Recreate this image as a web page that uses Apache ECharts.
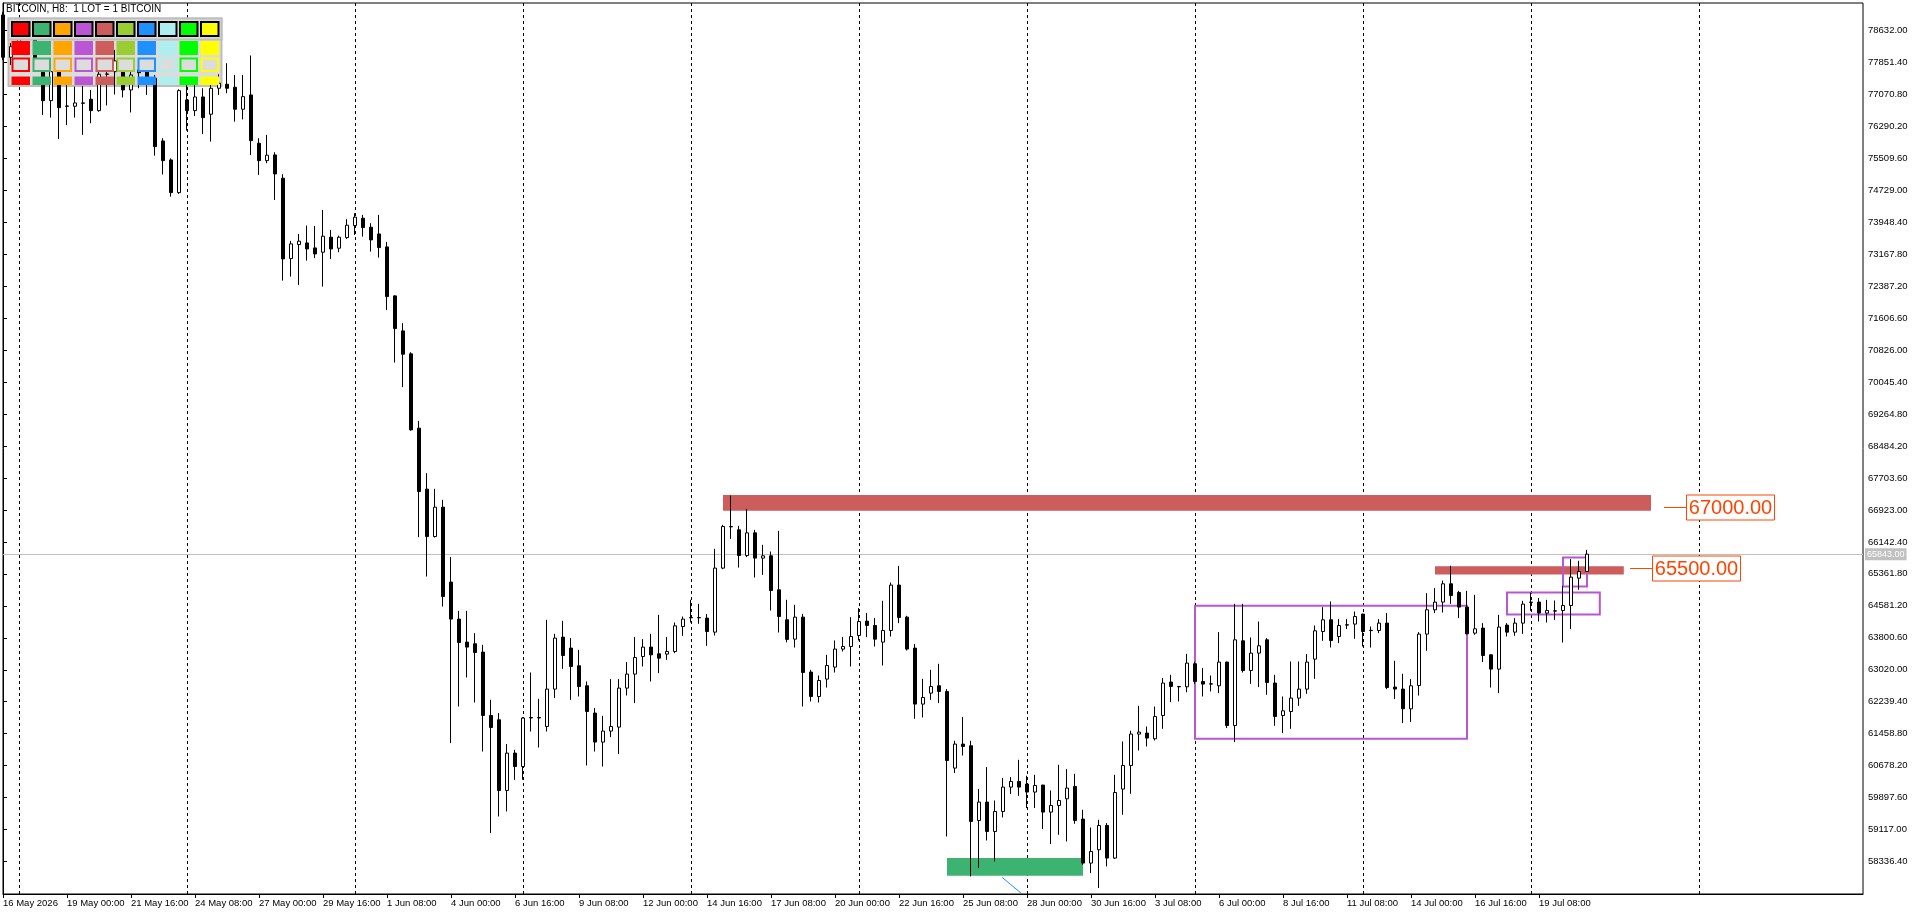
<!DOCTYPE html>
<html>
<head>
<meta charset="utf-8">
<script src="https://cdn.jsdelivr.net/npm/echarts@6/dist/echarts.min.js"></script>
<style>html,body{margin:0;padding:0;background:#fff;overflow:hidden}#c{width:1920px;height:915px}</style>
</head>
<body>
<div id="c"></div>
<script>
// ---- data (BITCOIN, H8) ----
const opens = [
79008,77975,78276,78642,78495,77763,76916,77624,76786,76779,
76860,76950,76672,77560,77624,77624,77177,77665,77624,77463,
75932,75468,74670,76933,76672,77006,76584,77218,77316,77243,
76706,77055,75876,75451,75590,75022,73059,73401,73442,73320,
73215,73581,73313,73572,73865,74045,73826,73662,73345,72149,
71294,70733,68919,67430,66273,66990,65160,64257,63695,63654,
63451,61904,61799,60073,60985,60658,61855,61855,61635,62548,
63817,63549,63117,62629,61962,61254,61523,61620,62572,62914,
63344,63573,63410,63402,63466,64076,64296,64296,64281,63939,
65502,66517,66436,65809,66363,65746,65802,64972,64240,63768,
64305,62963,62367,62792,63085,63525,63588,63856,64208,64101,
63695,63979,65087,64305,63549,62182,62450,62629,62490,60619,
61205,61164,59340,59789,59072,59560,60155,60293,60229,60034,
60204,59545,59707,59870,60171,59374,58300,58625,59218,58422,
60107,60683,61450,61474,61335,61904,62719,62612,62604,63166,
62734,62677,62629,63207,61659,63727,63002,63426,63751,62695,
61904,62001,62328,62548,63280,63954,64240,63832,64118,64135,
64379,63983,63979,64159,62597,62548,62067,62636,63891,64484,
64672,65119,64906,64550,63915,64037,63385,63036,64110,63939,
64159,64672,64672,64403,64459,64467,64589,65257,65419];
const highs = [
79081,78324,78837,78886,78764,77909,77836,77836,77299,77258,
77275,77177,77624,77746,78154,77829,77829,77787,77868,77543,
75998,75505,77194,77299,77341,77218,77355,77560,77829,77543,
77543,78019,75998,76079,75656,75119,73491,73662,73865,73857,
74248,73760,73621,74021,74167,74126,73923,74126,73467,72166,
71482,70774,69097,67821,67437,67169,65770,64459,64459,63915,
63629,62287,61962,61205,61066,61860,62953,62311,64240,63898,
64215,63793,63507,62734,62084,61896,62792,62792,63207,63817,
63768,63898,64362,63817,64174,64320,64728,64630,64379,65973,
66558,67274,66534,66949,66436,66070,65907,66412,64728,64606,
64386,63019,62880,63385,63735,63817,64305,64525,64403,64281,
64703,65150,65558,64337,63646,62799,63019,63166,62548,61286,
61864,61286,60107,60644,59829,60375,60399,60822,60432,60456,
60212,60073,60700,60595,60480,59602,59169,59357,59277,60456,
61269,61530,62140,61635,62123,62817,62897,62625,63410,63215,
63060,62880,63939,63220,64630,64630,63808,64198,63793,62897,
62367,63222,63222,63402,64101,64549,64687,64256,64256,64442,
64390,64076,64256,64403,63239,62922,62792,63939,64891,65013,
65199,65558,64948,64948,64850,64159,63395,64362,64159,64281,
64703,64906,64769,64728,64711,65069,65722,65680,65948];
const lows = [
77909,77787,78154,78398,77763,76567,76501,75981,76323,76501,
76079,76364,76647,76799,77067,76994,76628,77219,77055,75573,
75114,74572,74638,76184,76542,76103,75915,77055,77097,76403,
76457,75590,75102,75388,74492,72522,72620,72417,73010,73069,
72376,73052,73215,73540,73638,73596,73230,73083,71807,70521,
69920,68860,66258,65297,66250,64564,61230,62123,62831,62221,
61025,59033,59438,59560,60334,60334,61513,61122,61513,62328,
63043,62287,62368,60683,61025,60658,61376,60961,62392,62206,
63100,62734,62938,63263,63426,63849,64174,64142,63605,63856,
65477,66217,65516,65770,65272,65338,64466,63930,63690,63564,
62123,62245,62221,62587,62953,63466,63100,63735,63817,63588,
63124,63832,64159,63490,61823,61855,62287,62206,58950,60498,
60927,57974,58178,58852,58340,59414,59985,59943,59643,59643,
59130,58764,58991,58828,59260,58259,58056,57690,58218,58400,
59480,59992,61049,61147,61294,61579,62230,62245,62470,62677,
62368,62490,62450,61596,61254,62953,62677,62597,62409,61652,
61474,61579,62140,62433,62799,63727,63564,63671,64013,63776,
63588,63564,63915,62548,62304,61718,61743,62392,63483,64403,
64418,64630,64281,63880,63873,63207,62587,62450,63832,63849,
63898,64459,64198,64174,64240,63685,64013,64972,65410];
const closes = [
77975,78234,78642,78520,77909,76916,77624,76745,76779,76860,
76852,76672,77560,77568,77885,77177,77543,77599,77421,75793,
75451,74670,77160,76672,77006,76501,77218,77341,77218,76706,
77014,75940,75451,75583,75127,73052,73418,73484,73296,73174,
73606,73296,73581,73874,74070,73816,73516,73328,72131,71350,
70725,68877,67371,66273,66990,64808,64257,63685,63573,63441,
61904,61611,60073,60985,60658,61840,61843,61843,62548,63793,
63368,63100,62612,62001,61254,61523,61635,62572,62914,63319,
63573,63385,63304,63466,64093,64257,64288,64288,63954,65502,
66517,66510,65809,66363,65746,65802,64955,64320,63761,64305,
62953,62367,62758,63124,63525,63588,63832,64198,64101,63768,
63979,65087,64296,63525,62182,62343,62612,62490,60805,61205,
61147,59316,59789,59072,59560,60155,60293,60155,60034,60195,
59545,59707,59829,60131,59340,58300,58584,59218,58422,60024,
60683,61450,61498,61352,61880,62695,62612,62604,63183,62734,
62670,62670,63207,61659,63751,63002,63426,63605,62709,61880,
62018,62328,62548,63207,63971,64240,63734,64101,64110,64320,
63954,63976,64159,62587,62548,62067,62629,63891,64484,64672,
65119,64833,64550,63898,64020,63368,63036,64062,63939,64159,
64623,64664,64403,64467,64452,64589,65282,65419,65843];

// x-axis tick labels (one every 8 bars) and their bar indices
const xLabels = ["16 May 2026","19 May 00:00","21 May 16:00","24 May 08:00","27 May 00:00","29 May 16:00",
"1 Jun 08:00","4 Jun 00:00","6 Jun 16:00","9 Jun 08:00","12 Jun 00:00","14 Jun 16:00","17 Jun 08:00",
"20 Jun 00:00","22 Jun 16:00","25 Jun 08:00","28 Jun 00:00","30 Jun 16:00","3 Jul 08:00","6 Jul 00:00",
"8 Jul 16:00","11 Jul 08:00","14 Jul 00:00","16 Jul 16:00","19 Jul 08:00"];
const xLabelIdx = [0,8,16,24,32,40,48,56,64,72,80,88,96,104,112,120,128,136,144,152,160,168,176,184,192];
// weekly separators (bar indices)
const weekIdx = [2,23,44,65,86,107,128,149,170,191,212];
// price axis labels
const yTicks = [78632.00,77851.40,77070.80,76290.20,75509.60,74729.00,73948.40,73167.80,72387.20,71606.60,
70826.00,70045.40,69264.80,68484.20,67703.60,66923.00,66142.40,65361.80,64581.20,63800.60,63020.00,
62239.40,61458.80,60678.20,59897.60,59117.00,58336.40];
const bidPrice = 65843;
// zones: [fromBar, toBar, topPrice, bottomPrice]
const redZones = [[90,206,67290,66905],[179,202.6,65550,65345]];
const greenZones = [[118,135,58424,57991]];
const purpleBoxes = [[149,183,64582,61335],[188,199.6,64906,64369],[195,198,65760,65052]];
// level labels: [anchorBar, price]
const levelLabels = [[207.6,67000],[203.4,65500]];
// trend line segment: [bar, price]
const trendLine = [[124.9,57949],[127.3,57560]];
// colour palette panel
const palette = ['#FF0000','#3CB371','#FFA500','#BA55D3','#CD5C5C','#9ACD32','#1E90FF','#AFEEEE','#00FF00','#FFFF00'];

// ---- build ----
const FONT = 'Arial, "Liberation Sans", sans-serif';
const candleData = opens.map((o, i) => [i, o, closes[i], lows[i], highs[i]]);

const areaData = [];
redZones.forEach(z => areaData.push([{coord:[z[0], z[2]], itemStyle:{color:'#CD5C5C', opacity:1, borderWidth:0}}, {coord:[z[1], z[3]]}]));
greenZones.forEach(z => areaData.push([{coord:[z[0], z[2]], itemStyle:{color:'#3CB371', opacity:1, borderWidth:0}}, {coord:[z[1], z[3]]}]));
purpleBoxes.forEach(z => areaData.push([{coord:[z[0], z[2]], itemStyle:{color:'rgba(0,0,0,0)', opacity:1, borderColor:'#BA55D3', borderWidth:2}}, {coord:[z[1], z[3]]}]));

const graphics = [];
// panel background (below candles)
graphics.push({type:'rect', z:1, silent:true, shape:{x:8.5, y:18.5, width:213, height:67.5}, style:{fill:'#DCDCDC', stroke:'#BEBEBE', lineWidth:2}});
// top strip (above candles)
graphics.push({type:'rect', z:10, silent:true, shape:{x:8.5, y:18.5, width:213, height:21}, style:{fill:'#DCDCDC', stroke:'#BEBEBE', lineWidth:2}});
palette.forEach((c, k) => {
  const x = 11.5 + 21 * k;
  graphics.push({type:'rect', z:11, silent:true, shape:{x:x+0.5, y:22, width:17.5, height:14}, style:{fill:c, stroke:'#000', lineWidth:2}});
  graphics.push({type:'rect', z:11, silent:true, shape:{x:x, y:41, width:18.5, height:14}, style:{fill:c}});
  graphics.push({type:'rect', z:11, silent:true, shape:{x:x+1, y:58.5, width:16.5, height:12.5}, style:{fill:'#DCDCDC', stroke:c, lineWidth:2}});
  graphics.push({type:'rect', z:11, silent:true, shape:{x:x, y:76.5, width:18.5, height:8.5}, style:{fill:c}});
});
graphics.push({type:'text', z:20, silent:true, x:6, y:4, style:{text:'BITCOIN, H8:  1 LOT = 1 BITCOIN', font:'10px ' + FONT, fill:'#000'}});

const option = {
  animation: false,
  backgroundColor: '#ffffff',
  grid: {left:3, right:57, top:3, bottom:21, show:true, borderColor:'#000', borderWidth:1, backgroundColor:'#fff', containLabel:false, outerBoundsMode:'none'},
  xAxis: [
    {type:'value', min:0, max:232.5, position:'bottom',
     axisLine:{show:true, onZero:false, lineStyle:{color:'#000', width:1}},
     axisTick:{show:true, length:4, customValues:xLabelIdx, lineStyle:{color:'#000'}},
     axisLabel:{show:true, customValues:xLabelIdx, formatter:v => xLabels[Math.round(v/8)] || '', align:'left', margin:4, fontSize:9.5, fontFamily:FONT, color:'#000'},
     splitLine:{show:false}},
    {type:'value', min:0, max:232.5, position:'bottom', gridIndex:0,
     axisLine:{show:false}, axisTick:{show:false, customValues:weekIdx}, axisLabel:{show:false},
     splitLine:{show:true, lineStyle:{color:'#000', width:1, type:[3,3]}}}
  ],
  yAxis: {type:'value', position:'right', min:57545, max:79300, scale:true,
     axisLine:{show:true, lineStyle:{color:'#000', width:1}},
     axisTick:{show:true, length:4, customValues:yTicks, lineStyle:{color:'#000'}},
     axisLabel:{show:true, customValues:yTicks, formatter:v => Number(v).toFixed(2), margin:5, fontSize:9.5, fontFamily:FONT, color:'#000'},
     splitLine:{show:false}},
  graphic: {elements: graphics},
  series: [
    {type:'candlestick', name:'BITCOIN', data:candleData, encode:{x:0, y:[1,2,3,4]},
     barWidth:4, z:2, silent:true,
     itemStyle:{color:'#FFFFFF', color0:'#000000', borderColor:'#000000', borderColor0:'#000000', borderWidth:1},
     markArea:{silent:true, z:1, label:{show:false}, data:areaData},
     markLine:{silent:true, z:1, symbol:['none','none'], animation:false,
       data:[{yAxis:bidPrice, lineStyle:{color:'#C0C0C0', width:1, type:'solid'},
              label:{show:true, position:'end', distance:2, formatter:bidPrice.toFixed(2), color:'#fff', backgroundColor:'#C0C0C0', padding:[2,2,1,2], fontSize:9, fontFamily:FONT}}]}
    },
    {type:'line', data:trendLine, showSymbol:false, symbol:'none', silent:true, z:3, clip:true,
     lineStyle:{color:'#1E90FF', width:1, type:'solid'}},
    {type:'custom', data:levelLabels, encode:{x:0, y:1}, silent:true, z:6, clip:false,
     renderItem:(params, api) => {
       const p = api.coord([api.value(0), api.value(1)]);
       const txt = Number(api.value(1)).toFixed(2);
       const x0 = Math.round(p[0]);
       const y = Math.round(p[1]) + 0.5;
       return {type:'group', children:[
         {type:'line', shape:{x1:x0, y1:y, x2:x0+22, y2:y}, style:{stroke:'#FF4500', lineWidth:1}},
         {type:'rect', shape:{x:x0+22.5, y:y-12.5, width:88, height:25}, style:{fill:'#fff', stroke:'#FF4500', lineWidth:1}},
         {type:'text', x:x0+22.5+44, y:y+1, style:{text:txt, font:'20px ' + FONT, fill:'#FF4500', align:'center', verticalAlign:'middle', textAlign:'center', textVerticalAlign:'middle'}}
       ]};
     }}
  ]
};
const chart = echarts.init(document.getElementById('c'));
chart.setOption(option);
</script>
</body>
</html>
